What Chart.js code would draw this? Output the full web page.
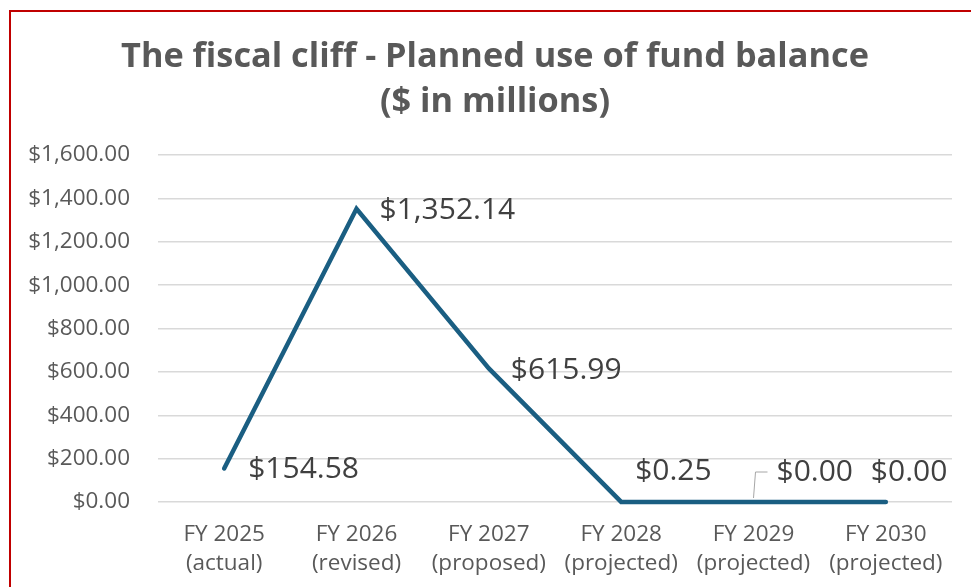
<!DOCTYPE html>
<html>
<head>
<meta charset="utf-8">
<script src="https://cdn.jsdelivr.net/npm/chart.js@4.4.1/dist/chart.umd.min.js"></script>
<style>
  html, body { margin: 0; padding: 0; background: #fff; overflow: hidden; }
  #frame {
    position: absolute; left: 9px; top: 10px; width: 1000px; height: 600px;
    border-left: 2px solid #c00000; border-top: 2px solid #c00000;
  }
  #chart { position: absolute; left: 0; top: 0; }
</style>
</head>
<body>
<div id="frame"><canvas id="chart" width="987" height="577"></canvas></div>
<script>
const years = ['FY 2025', 'FY 2026', 'FY 2027', 'FY 2028', 'FY 2029', 'FY 2030'];
const statuses = ['(actual)', '(revised)', '(proposed)', '(projected)', '(projected)', '(projected)'];
const fundBalanceUse = [154.58, 1352.14, 615.99, 0.25, 0.00, 0.00];
const yTicks = [0, 200, 400, 600, 800, 1000, 1200, 1400, 1600];
const titleLines = ['The fiscal cliff - Planned use of fund balance', '($ in millions)'];

const money = v => '$' + v.toLocaleString('en-US', { minimumFractionDigits: 2, maximumFractionDigits: 2 });

// label placement relative to each point: [dx, dy]
const labelPlacement = [[24, 1], [23, 2], [22, 2], [14, -30], [23, -30], [-15, -30]];

// title centred on the chart box, not on the plot area
const boxTitle = {
    id: 'boxTitle',
    afterDraw(chart) {
        const ctx = chart.ctx;
        ctx.save();
        ctx.font = 'bold 34.3px "Open Sans"';
        ctx.fillStyle = '#595959';
        ctx.textAlign = 'center';
        ctx.textBaseline = 'middle';
        titleLines.forEach((line, i) => ctx.fillText(line, 484, 45 + i * 45));
        ctx.restore();
    }
};

const pointLabels = {
    id: 'pointLabels',
    afterDatasetsDraw(chart) {
        const ctx = chart.ctx;
        const meta = chart.getDatasetMeta(0);
        ctx.save();
        ctx.font = '30px "Open Sans"';
        ctx.fillStyle = '#404040';
        ctx.textAlign = 'left';
        ctx.textBaseline = 'middle';
        meta.data.forEach((pt, i) => {
            const [dx, dy] = labelPlacement[i];
            const x = pt.x + dx, y = pt.y + dy;
            if (i === 4) {
                // leader line
                ctx.strokeStyle = '#a6a6a6';
                ctx.lineWidth = 1;
                ctx.beginPath();
                ctx.moveTo(pt.x, pt.y - 4);
                ctx.lineTo(pt.x + 2, y);
                ctx.lineTo(x - 9, y);
                ctx.stroke();
            }
            ctx.fillText(money(fundBalanceUse[i]), x, y);
        });
        ctx.restore();
    }
};

new Chart(document.getElementById('chart'), {
    type: 'line',
    data: {
        labels: years.map((y, i) => [y, statuses[i]]),
        datasets: [{
            data: fundBalanceUse,
            borderColor: '#1a5e82',
            borderWidth: 4.5,
            borderCapStyle: 'round',
            pointRadius: 0,
            tension: 0,
            clip: 8
        }]
    },
    options: {
        responsive: false,
        animation: false,
        layout: { padding: { left: 0, right: 46, top: 143, bottom: 0 } },
        plugins: {
            legend: { display: false },
            tooltip: { enabled: false },
            title: { display: false }
        },
        scales: {
            x: {
                offset: true,
                grid: { display: false },
                border: { display: false },
                ticks: {
                    color: '#595959',
                    font: { family: '"Open Sans"', size: 22.5, lineHeight: 29 / 22.5 },
                    padding: 10,
                    maxRotation: 0
                },
                afterFit(scale) { scale.height = 87; }
            },
            y: {
                min: 0,
                max: 1600,
                afterBuildTicks(scale) { scale.ticks = yTicks.map(v => ({ value: v })); },
                grid: { color: '#d9d9d9', lineWidth: 1.5, drawTicks: false },
                border: { display: false },
                ticks: {
                    color: '#595959',
                    font: { family: '"Open Sans"', size: 22.5 },
                    padding: 28,
                    callback: v => money(v)
                },
                afterFit(scale) { scale.width = 147; }
            }
        }
    },
    plugins: [pointLabels, boxTitle]
});
</script>
</body>
</html>
